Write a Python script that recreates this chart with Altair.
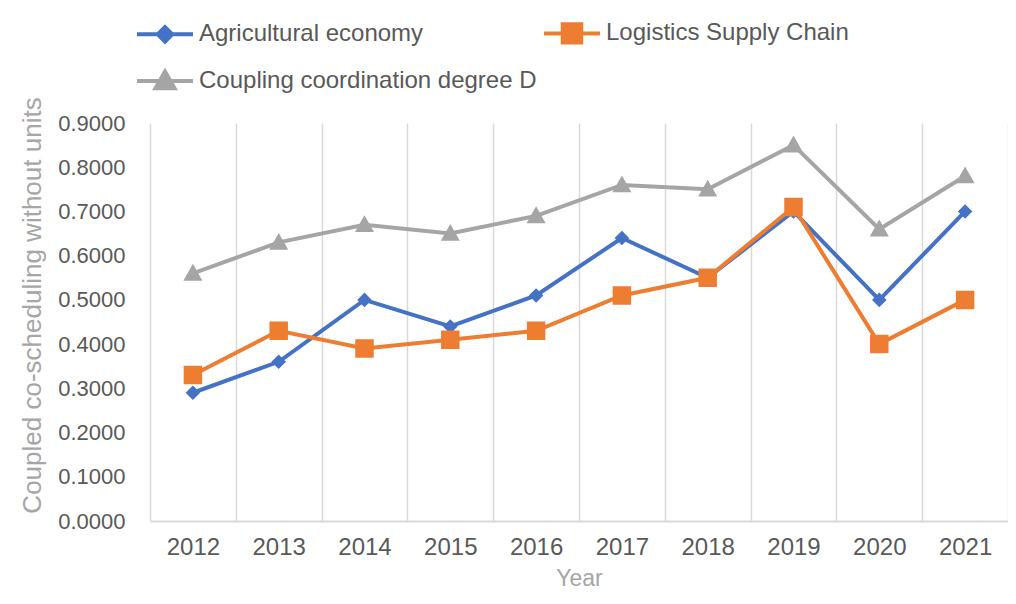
import altair as alt
import pandas as pd

years = ["2012", "2013", "2014", "2015", "2016", "2017", "2018", "2019", "2020", "2021"]
series_names = ["Agricultural economy", "Logistics Supply Chain", "Coupling coordination degree D"]
agri = [0.29, 0.36, 0.50, 0.44, 0.51, 0.64, 0.55, 0.70, 0.50, 0.70]
logi = [0.33, 0.43, 0.39, 0.41, 0.43, 0.51, 0.55, 0.71, 0.40, 0.50]
coup = [0.56, 0.63, 0.67, 0.65, 0.69, 0.76, 0.75, 0.85, 0.66, 0.78]
y_ticks = [0.0, 0.1, 0.2, 0.3, 0.4, 0.5, 0.6, 0.7, 0.8, 0.9]

colors = ["#4472C4", "#ED7D31", "#A5A5A5"]
# marker glyphs with a horizontal legend stroke (zero-area in the plot)
shapes = [
    "M-1,0L1,0M0,-0.26L0.26,0L0,0.26L-0.26,0Z",
    "M-1,0L1,0M-0.33,-0.33L0.33,-0.33L0.33,0.33L-0.33,0.33Z",
    "M-1,0L1,0M0,-0.34L0.34,0.26L-0.34,0.26Z",
]

rows = []
for name, vals in zip(series_names, [agri, logi, coup]):
    for yr, v in zip(years, vals):
        rows.append({"Year": yr, "Series": name, "Value": v})
df = pd.DataFrame(rows)

FONT = "Liberation Sans"

color_scale = alt.Scale(domain=series_names, range=colors)
shape_scale = alt.Scale(domain=series_names, range=shapes)

x_enc = alt.X(
    "Year:O",
    bandPosition=0.5,
    scale=alt.Scale(type="band", paddingInner=0, paddingOuter=0),
    axis=alt.Axis(
        title="Year",
        tickBand="extent",
        grid=True,
        gridColor="#D9D9D9",
        gridWidth=1.5,
        ticks=False,
        domainColor="#D9D9D9",
        domainWidth=2,
        labelAngle=0,
        labelFont=FONT,
        labelFontSize=24,
        labelColor="#595959",
        labelPadding=14,
        titleFont=FONT,
        titleFontSize=23,
        titleFontWeight="normal",
        titleColor="#A6A6A6",
        titlePadding=8,
    ),
)

y_enc = alt.Y(
    "Value:Q",
    scale=alt.Scale(domain=[0, 0.9], nice=False, zero=True),
    axis=alt.Axis(
        title="Coupled co-scheduling without units",
        values=y_ticks,
        format=".4f",
        grid=False,
        ticks=False,
        domain=False,
        labelFont=FONT,
        labelFontSize=22,
        labelColor="#595959",
        labelPadding=25,
        titleFont=FONT,
        titleFontSize=26,
        titleFontWeight="normal",
        titleColor="#A6A6A6",
        titleAngle=-90,
        titleBaseline="middle",
        titleX=-118,
        titleY=182,
    ),
)

legend = alt.Legend(
    title=None,
    orient="none",
    direction="horizontal",
    legendX=-15,
    legendY=-120,
    columns=2,
    columnPadding=-1,
    rowPadding=-20,
    padding=0,
    symbolSize=3136,
    symbolStrokeWidth=4,
    symbolOpacity=1,
    labelOffset=4,
    labelLimit=0,
    labelFont=FONT,
    labelFontSize=24,
    labelColor="#595959",
)

base = alt.Chart(df)

lines = base.mark_line(strokeWidth=4).encode(
    x=x_enc,
    y=y_enc,
    color=alt.Color("Series:N", scale=color_scale, sort=series_names, legend=legend),
    detail="Series:N",
)

points = base.mark_point(filled=True, opacity=1, strokeWidth=0, size=3136).encode(
    x=x_enc,
    y=y_enc,
    color=alt.Color("Series:N", scale=color_scale, sort=series_names, legend=legend),
    shape=alt.Shape("Series:N", scale=shape_scale, sort=series_names, legend=legend),
)

chart = (
    alt.layer(lines, points)
    .properties(
        width=858,
        height=398,
        autosize=alt.AutoSizeParams(type="none"),
        padding={"left": 142, "top": 115, "right": 0, "bottom": 70},
        background="white",
    )
    .configure_view(stroke=None)
)

chart.save("out.html", embed_options={"renderer": "svg", "actions": False})
